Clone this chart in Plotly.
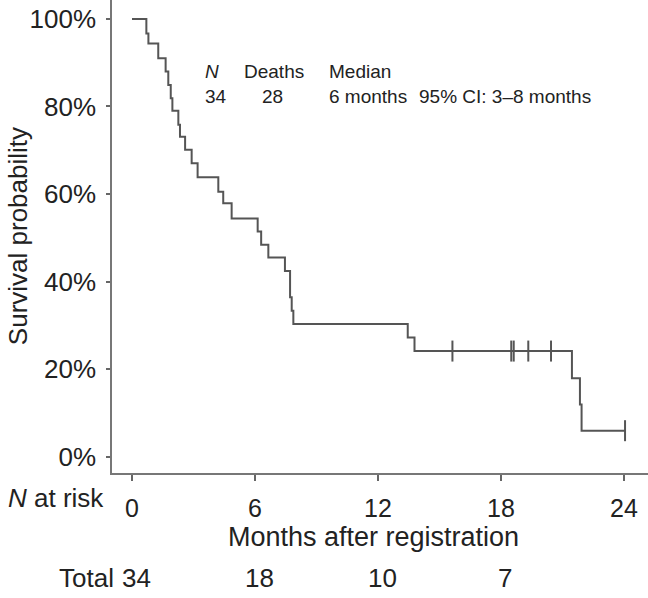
import plotly.graph_objects as go

# Kaplan-Meier step points (months, survival %)
step_times = [0, 0.70, 0.80, 1.28, 1.64, 1.77, 1.89, 1.97, 2.26, 2.34, 2.59, 2.91, 3.20,
              4.21, 4.45, 4.86, 6.13, 6.30, 6.65, 7.46, 7.71, 7.79, 7.87, 13.45, 13.78,
              21.46, 21.85, 21.93, 24.05]
step_surv = [100, 96.7, 94.4, 91.0, 88.0, 84.9, 81.9, 79.0, 75.8, 73.1, 70.1, 67.0, 63.8,
             60.5, 57.9, 54.4, 51.4, 48.4, 45.5, 42.4, 36.4, 33.3, 30.3, 27.2, 24.1,
             17.9, 11.9, 5.9, 5.9]

# censored observations
censor_times = [15.63, 18.50, 18.62, 19.33, 20.44, 24.05]
censor_surv = [24.1, 24.1, 24.1, 24.1, 24.1, 5.9]

# axis ticks
x_ticks = [0, 6, 12, 18, 24]
y_ticks = [0, 20, 40, 60, 80, 100]
y_ticklabels = ["0%", "20%", "40%", "60%", "80%", "100%"]

# numbers at risk
risk_times = [0, 6, 12, 18]
risk_counts = ["34", "18", "10", "7"]

# summary table
summary_header = ["<i>N</i>", "Deaths", "Median"]
summary_values = ["34", "28", "6 months", "95% CI: 3\u20138 months"]
header_x = [3.46, 5.35, 9.50]
values_x = [3.46, 6.24, 9.50, 13.92]

FONT = "Liberation Sans, Arial, sans-serif"
CURVE = "#555555"
TXT = "#222222"

fig = go.Figure()
fig.add_trace(go.Scatter(x=step_times, y=step_surv, mode="lines",
                         line=dict(shape="hv", color=CURVE, width=2),
                         hoverinfo="skip"))
fig.add_trace(go.Scatter(x=censor_times, y=censor_surv, mode="markers",
                         marker=dict(symbol="line-ns", size=15,
                                     line=dict(color=CURVE, width=2)),
                         hoverinfo="skip"))

annotations = []
for txt, xv in zip(summary_header, header_x):
    annotations.append(dict(x=xv, y=88.1, xref="x", yref="y", text=txt, showarrow=False,
                            xanchor="left", yanchor="middle",
                            font=dict(family=FONT, size=19, color=TXT)))
for txt, xv in zip(summary_values, values_x):
    annotations.append(dict(x=xv, y=82.3, xref="x", yref="y", text=txt, showarrow=False,
                            xanchor="left", yanchor="middle",
                            font=dict(family=FONT, size=19, color=TXT)))

annotations.append(dict(x=-0.176, y=0.5, xref="paper", yref="paper",
                        text="Survival probability", textangle=-90, showarrow=False,
                        xanchor="center", yanchor="middle",
                        font=dict(family=FONT, size=26, color=TXT)))
annotations.append(dict(x=0.487, y=-0.135, xref="paper", yref="paper",
                        text="Months after registration", showarrow=False,
                        xanchor="center", yanchor="middle",
                        font=dict(family=FONT, size=27, color=TXT)))
annotations.append(dict(x=-0.011, y=-0.053, xref="paper", yref="paper",
                        text="<i>N</i> at risk", showarrow=False,
                        xanchor="right", yanchor="middle",
                        font=dict(family=FONT, size=26, color=TXT)))
annotations.append(dict(x=0.0075, y=-0.222, xref="paper", yref="paper",
                        text="Total", showarrow=False,
                        xanchor="right", yanchor="middle",
                        font=dict(family=FONT, size=26, color=TXT)))
for xv, txt in zip(risk_times, risk_counts):
    annotations.append(dict(x=xv, y=-0.222, xref="x", yref="paper", text=txt,
                            showarrow=False, xanchor="center", yanchor="middle",
                            xshift=4,
                            font=dict(family=FONT, size=26, color=TXT)))

fig.update_layout(
    width=648, height=598,
    margin=dict(l=112, r=0, t=0, b=125, autoexpand=False),
    plot_bgcolor="white", paper_bgcolor="white",
    showlegend=False,
    annotations=annotations,
    xaxis=dict(range=[-0.976, 25.17], tickvals=x_ticks, ticks="outside", ticklen=6,
               tickwidth=1.5, tickcolor="#666666", showline=True, linecolor="#777777",
               linewidth=1.5, showgrid=False, zeroline=False, ticklabelstandoff=6,
               automargin=False,
               tickfont=dict(family=FONT, size=25, color=TXT)),
    yaxis=dict(range=[-3.77, 104.34], tickvals=y_ticks, ticktext=y_ticklabels,
               ticks="outside", ticklen=4, tickwidth=1.5, tickcolor="#666666",
               showline=True, linecolor="#777777", linewidth=1.5, showgrid=False,
               zeroline=False, ticklabelstandoff=5, automargin=False,
               tickfont=dict(family=FONT, size=26, color=TXT)),
)

fig.write_html("out.html", config={"displayModeBar": False},
               post_script="document.body.style.margin='0';document.body.style.overflow='hidden';")
